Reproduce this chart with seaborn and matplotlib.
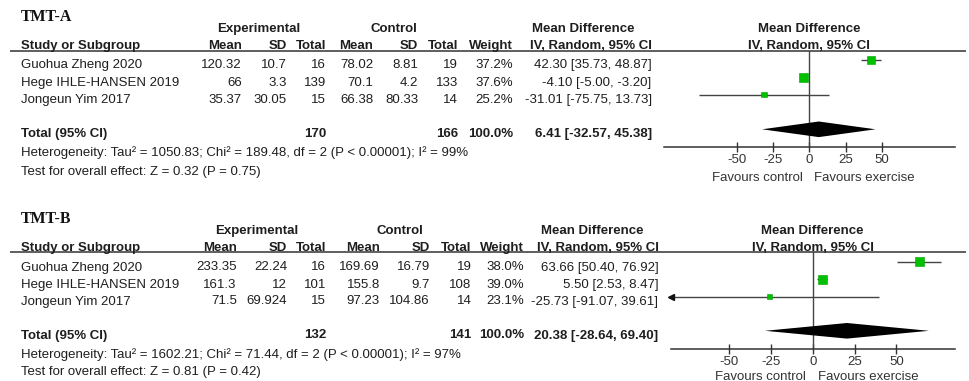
import numpy as np
import pandas as pd
import matplotlib
matplotlib.use("Agg")
import matplotlib.pyplot as plt
import seaborn as sns

sns.set_theme(style="white")
plt.rcParams["font.family"] = ["Liberation Sans", "DejaVu Sans"]

# ---------------- data ----------------
studies = ["Guohua Zheng 2020", "Hege IHLE-HANSEN 2019", "Jongeun Yim 2017"]

# TMT-A
a_exp_mean = [120.32, 66, 35.37]
a_exp_sd = [10.7, 3.3, 30.05]
a_exp_n = [16, 139, 15]
a_ctl_mean = [78.02, 70.1, 66.38]
a_ctl_sd = [8.81, 4.2, 80.33]
a_ctl_n = [19, 133, 14]
a_weight = [37.2, 37.6, 25.2]
a_md = [42.30, -4.10, -31.01]
a_lo = [35.73, -5.00, -75.75]
a_hi = [48.87, -3.20, 13.73]
a_total = [170, 166, 100.0]        # N experimental, N control, weight %
a_pooled = [6.41, -32.57, 45.38]
a_het = [1050.83, 189.48, 2, 99]   # Tau², Chi², df, I²
a_effect = [0.32, 0.75]            # Z, P

# TMT-B
b_exp_mean = [233.35, 161.3, 71.5]
b_exp_sd = [22.24, 12, 69.924]
b_exp_n = [16, 101, 15]
b_ctl_mean = [169.69, 155.8, 97.23]
b_ctl_sd = [16.79, 9.7, 104.86]
b_ctl_n = [19, 108, 14]
b_weight = [38.0, 39.0, 23.1]
b_md = [63.66, 5.50, -25.73]
b_lo = [50.40, 2.53, -91.07]
b_hi = [76.92, 8.47, 39.61]
b_total = [132, 141, 100.0]
b_pooled = [20.38, -28.64, 69.40]
b_het = [1602.21, 71.44, 2, 97]
b_effect = [0.81, 0.42]

axis_ticks = [-50, -25, 0, 25, 50]

# ---------------- figure ----------------
W, H = 970, 381
fig = plt.figure(figsize=(W / 100, H / 100), dpi=100)
bg = fig.add_axes([0, 0, 1, 1])
bg.set_xlim(0, W)
bg.set_ylim(H, 0)
bg.axis("off")

TXT = "#1e1e1e"
LINE = "#444444"
GREEN = "#00c000"
FS = 9.5


def put(x, y, s, ha="right", bold=False, color=TXT):
    bg.text(x, y, s, ha=ha, va="baseline", fontsize=FS, color=color,
            fontweight="bold" if bold else "normal")


def panel(title, lay, exp_mean, exp_sd, exp_n, ctl_mean, ctl_sd, ctl_n,
          weight, md, lo, hi, total, pooled, het, effect):
    cols = lay["cols"]
    # title
    bg.text(21, lay["title"], title, ha="left", va="baseline", fontsize=11.4,
            fontweight="bold", color="#111111",
            family=["Liberation Serif", "DejaVu Serif"])
    # group headers
    g = lay["group"]
    put(lay["exp_c"], g, "Experimental", ha="center", bold=True)
    put(lay["ctl_c"], g, "Control", ha="center", bold=True)
    put(lay["md_c"], g, "Mean Difference", ha="center", bold=True)
    put(lay["plot_c"], g, "Mean Difference", ha="center", bold=True)
    # column headers
    h = lay["head"]
    put(21, h, "Study or Subgroup", ha="left", bold=True)
    for x, s in zip(cols, ["Mean", "SD", "Total", "Mean", "SD", "Total",
                           "Weight", "IV, Random, 95% CI"]):
        put(x, h, s, bold=True)
    put(lay["plot_c"], h, "IV, Random, 95% CI", ha="center", bold=True)
    bg.plot([10, 966], [lay["rule"], lay["rule"]], color="#333333", lw=1.1,
            solid_capstyle="butt")
    # study rows
    for i, name in enumerate(studies):
        y = lay["rows"][i]
        put(21, y, name, ha="left")
        vals = [f"{exp_mean[i]:g}", f"{exp_sd[i]:g}", f"{exp_n[i]}",
                f"{ctl_mean[i]:g}", f"{ctl_sd[i]:g}", f"{ctl_n[i]}",
                f"{weight[i]:.1f}%",
                f"{md[i]:.2f} [{lo[i]:.2f}, {hi[i]:.2f}]"]
        for x, s in zip(cols, vals):
            put(x, y, s)
    # totals
    t = lay["total"]
    put(21, t, "Total (95% CI)", ha="left", bold=True)
    put(cols[2], t, f"{total[0]}", bold=True)
    put(cols[5], t, f"{total[1]}", bold=True)
    put(cols[6], t, f"{total[2]:.1f}%", bold=True)
    put(cols[7], t, f"{pooled[0]:.2f} [{pooled[1]:.2f}, {pooled[2]:.2f}]",
        bold=True)
    put(21, lay["het"],
        f"Heterogeneity: Tau\u00b2 = {het[0]:.2f}; Chi\u00b2 = {het[1]:.2f}, "
        f"df = {het[2]} (P < 0.00001); I\u00b2 = {het[3]}%", ha="left")
    put(21, lay["test"],
        f"Test for overall effect: Z = {effect[0]:.2f} (P = {effect[1]:.2f})",
        ha="left")
    put(lay["zero_px"] - 7, lay["fav"], "Favours control", ha="right",
        color="#333333")
    put(lay["zero_px"] + 5, lay["fav"], "Favours exercise", ha="left",
        color="#333333")

    # forest plot axes, y measured in the same row units as the table
    x0, x1 = lay["ax_x"]
    y0, y1 = lay["rule"], lay["axis_y"]
    ax = fig.add_axes([x0 / W, 1 - y1 / H, (x1 - x0) / W, (y1 - y0) / H])
    lim = lay["lim"]
    ax.set_xlim(-lim, lim)
    ax.set_ylim(y1, y0)
    ax.patch.set_alpha(0)
    for side in ["top", "right", "left"]:
        ax.spines[side].set_visible(False)
    ax.spines["bottom"].set_color("#333333")
    ax.spines["bottom"].set_linewidth(1.1)
    ax.set_yticks([])
    ax.set_xticks(axis_ticks)
    ax.set_xticklabels([f"{t}" for t in axis_ticks])
    ax.tick_params(axis="x", direction="inout", length=7, width=1.0,
                   color="#333333", labelsize=FS, labelcolor="#333333",
                   pad=1.5, bottom=True)
    ax.axvline(0, color=LINE, lw=1.0, zorder=1)

    my = lay["mark"]
    for i in range(len(studies)):
        a, b = max(lo[i], -lim), min(hi[i], lim)
        ax.hlines(my[i], a, b, color=LINE, lw=1.0, zorder=2)
        if lo[i] < -lim:
            ax.plot([-lim], [my[i]], marker="<", ms=4, color="#111111",
                    clip_on=False, zorder=3)
        if hi[i] > lim:
            ax.plot([lim], [my[i]], marker=">", ms=4, color="#111111",
                    clip_on=False, zorder=3)
    side_pt = np.array(weight) * 0.23 * 0.72
    df = pd.DataFrame({"md": md, "row": my})
    sns.scatterplot(data=df, x="md", y="row", marker="s", s=side_pt ** 2,
                    color=GREEN, edgecolor="#00a000", linewidth=0.4, ax=ax,
                    zorder=4, legend=False)
    ax.set_xlabel("")
    ax.set_ylabel("")
    dy = lay["dh"]
    yc = lay["diamond"]
    ax.fill([pooled[1], pooled[0], pooled[2], pooled[0]],
            [yc, yc - dy, yc, yc + dy], color="black", lw=0, zorder=5)
    return ax


layout_a = dict(
    title=20.7, group=31.8, head=48.8, rule=51,
    rows=[68.2, 85.6, 103.1], total=137.0, het=156.0, test=174.5, fav=181.0,
    cols=[241.7, 286.7, 326, 373.3, 418.3, 458.3, 513.3, 651.7],
    exp_c=259, ctl_c=394, md_c=583, plot_c=809,
    ax_x=(664, 955), lim=100, axis_y=147.3, zero_px=809.5,
    mark=[60.0, 77.7, 94.5], diamond=129.3, dh=7.8,
)
layout_b = dict(
    title=222.8, group=233.8, head=251.0, rule=252.3,
    rows=[270.5, 287.8, 304.5], total=338.5, het=357.8, test=374.5, fav=379.6,
    cols=[236.7, 287.3, 326, 380, 430, 471.5, 524, 658.5],
    exp_c=257, ctl_c=400, md_c=592, plot_c=812.5,
    ax_x=(670.7, 955), lim=85, axis_y=349.0, zero_px=812.9,
    mark=[261.7, 279.3, 296.7], diamond=330.8, dh=7.8,
)

panel("TMT-A", layout_a, a_exp_mean, a_exp_sd, a_exp_n, a_ctl_mean, a_ctl_sd,
      a_ctl_n, a_weight, a_md, a_lo, a_hi, a_total, a_pooled, a_het, a_effect)
panel("TMT-B", layout_b, b_exp_mean, b_exp_sd, b_exp_n, b_ctl_mean, b_ctl_sd,
      b_ctl_n, b_weight, b_md, b_lo, b_hi, b_total, b_pooled, b_het, b_effect)

fig.savefig("out.png", dpi=100)
